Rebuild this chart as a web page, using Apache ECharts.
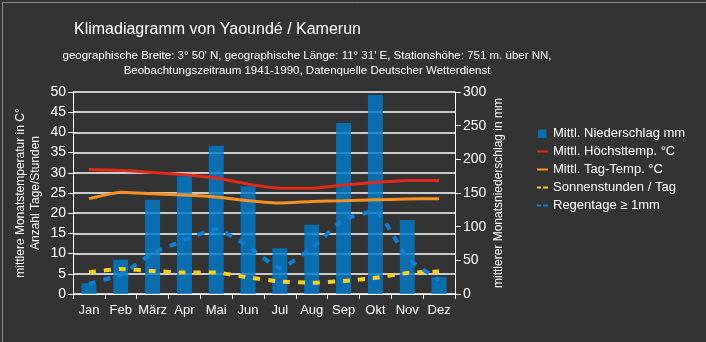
<!DOCTYPE html>
<html><head><meta charset="utf-8">
<script src="https://cdn.jsdelivr.net/npm/echarts@6/dist/echarts.min.js"></script>
<style>html,body{margin:0;padding:0;background:#333;}#c{width:706px;height:342px;}</style>
</head><body><div id="c"></div>
<script>
var months = ['Jan','Feb','März','Apr','Mai','Jun','Jul','Aug','Sep','Okt','Nov','Dez'];
var niederschlag = [16, 51, 140, 175, 220, 160, 68, 103, 254, 296, 110, 25];
var hoechstTemp = [30.8, 30.6, 30.1, 29.5, 28.7, 27.2, 26.2, 26.2, 27.0, 27.6, 28.1, 28.1];
var tagTemp = [23.6, 25.2, 24.8, 24.5, 24.0, 23.1, 22.5, 22.9, 23.1, 23.3, 23.5, 23.6];
var sonne = [5.4, 6.2, 5.7, 5.3, 5.3, 4.1, 3.1, 2.8, 3.2, 4.0, 5.2, 5.6];
var regentage = [2.5, 4.8, 10.1, 13.3, 16.1, 11.8, 6.4, 11.4, 18.4, 20.5, 8.9, 3.5];
var leftTicks = [0, 50, 5];
var rightTicks = [0, 300, 50];

var chart = echarts.init(document.getElementById('c'));
var font = 'Liberation Sans, Arial, sans-serif';
var solidIcon = 'path://M0,0M0,4.5h11v2h-11zM11,11';
var dashIcon = 'path://M0,0M0,4.5h4v2h-4zM6,4.5h5v2h-5zM11,11';
var boxIcon = 'path://M0,0M1,1.5h8.5v8.5h-8.5zM11,11';
chart.setOption({
  backgroundColor: '#333333',
  animation: false,
  textStyle: {fontFamily: font},
  graphic: [
    {type: 'text', left: 74, top: 22, style: {text: 'Klimadiagramm von Yaoundé / Kamerun', fill: '#ffffff', font: '16px ' + font}},
    {type: 'text', x: 307, y: 48, style: {text: 'geographische Breite: 3° 50\' N, geographische Länge: 11° 31\' E, Stationshöhe: 751 m. über NN,\nBeobachtungszeitraum 1941-1990, Datenquelle Deutscher Wetterdienst', fill: '#ffffff', font: '11.5px ' + font, textAlign: 'center', lineHeight: 15}},
    {type: 'rect', left: 0, top: 0, shape: {width: 706, height: 342}, style: {fill: 'none', stroke: '#8a8a8a', lineWidth: 1}, silent: true, z: -1}
  ],
  legend: {
    orient: 'vertical', left: 532, top: 122, itemGap: 5, itemWidth: 11, itemHeight: 11,
    textStyle: {color: '#ffffff', fontSize: 13, fontFamily: font},
    data: [
      {name: 'Mittl. Niederschlag mm', icon: boxIcon},
      {name: 'Mittl. Höchsttemp. °C', icon: solidIcon},
      {name: 'Mittl. Tag-Temp. °C', icon: solidIcon},
      {name: 'Sonnenstunden / Tag', icon: dashIcon},
      {name: 'Regentage ≥ 1mm', icon: dashIcon}
    ]
  },
  grid: {left: 73, right: 251, top: 92, bottom: 48},
  xAxis: {
    type: 'category', data: months,
    axisLine: {lineStyle: {color: '#ffffff', width: 1}},
    axisTick: {show: true, alignWithLabel: false, length: 5, lineStyle: {color: '#ffffff'}},
    axisLabel: {color: '#ffffff', fontSize: 13, margin: 10, interval: 0}
  },
  yAxis: [
    {type: 'value', min: leftTicks[0], max: leftTicks[1], interval: leftTicks[2],
     name: 'mittlere Monatstemperatur in C°\nAnzahl Tage/Stunden', nameLocation: 'middle', nameGap: 30, nameRotate: 90,
     nameMoveOverlap: false,
     nameTextStyle: {color: '#ffffff', fontSize: 12, lineHeight: 15},
     axisLine: {show: true, lineStyle: {color: '#ffffff'}},
     axisTick: {show: true, length: 5, lineStyle: {color: '#ffffff'}},
     axisLabel: {color: '#ffffff', fontSize: 14, margin: 7},
     splitLine: {show: true, lineStyle: {color: '#ffffff', width: 1.5}}},
    {type: 'value', min: rightTicks[0], max: rightTicks[1], interval: rightTicks[2], position: 'right',
     name: 'mittlerer Monatsniederschlag in mm', nameLocation: 'middle', nameGap: 38, nameRotate: 90,
     nameMoveOverlap: false,
     nameTextStyle: {color: '#ffffff', fontSize: 12},
     axisLine: {show: true, lineStyle: {color: '#ffffff'}},
     axisTick: {show: true, length: 6, lineStyle: {color: '#ffffff'}},
     axisLabel: {color: '#ffffff', fontSize: 14, margin: 8},
     splitLine: {show: false}}
  ],
  series: [
    {name: 'Mittl. Niederschlag mm', type: 'bar', yAxisIndex: 1, data: niederschlag, barWidth: 15,
     itemStyle: {color: 'rgba(0,122,204,0.82)'}},
    {name: 'Mittl. Höchsttemp. °C', type: 'line', yAxisIndex: 0, data: hoechstTemp, symbol: 'none', smooth: 0.15,
     lineStyle: {color: '#e02a1a', width: 3}, itemStyle: {color: '#e02a1a'}},
    {name: 'Mittl. Tag-Temp. °C', type: 'line', yAxisIndex: 0, data: tagTemp, symbol: 'none', smooth: 0.15,
     lineStyle: {color: '#f7901e', width: 3}, itemStyle: {color: '#f7901e'}},
    {name: 'Sonnenstunden / Tag', type: 'line', yAxisIndex: 0, data: sonne, symbol: 'none', smooth: 0.15,
     lineStyle: {color: '#f5d020', width: 4, type: [7, 8]}, itemStyle: {color: '#f5d020'}},
    {name: 'Regentage ≥ 1mm', type: 'line', yAxisIndex: 0, data: regentage, symbol: 'none', smooth: 0.15,
     lineStyle: {color: '#0f80d6', width: 4, type: [7, 8]}, itemStyle: {color: '#0f80d6'}}
  ]
});
</script></body></html>
